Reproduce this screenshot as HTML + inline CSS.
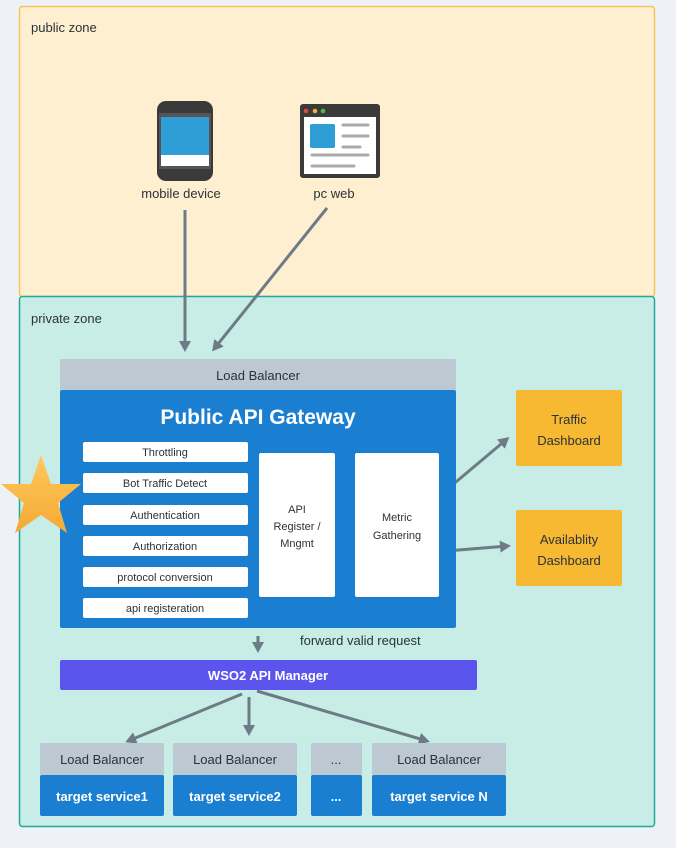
<!DOCTYPE html>
<html><head><meta charset="utf-8"><style>
body{margin:0;width:676px;height:848px;background:#eef2f7;overflow:hidden}
svg{display:block}
text{font-family:"Liberation Sans",sans-serif}
</style></head><body>
<svg width="676" height="848" viewBox="0 0 676 848" xmlns="http://www.w3.org/2000/svg">
<defs>
<marker id="ah" markerWidth="12" markerHeight="12" refX="8" refY="6" orient="auto" markerUnits="userSpaceOnUse"><path d="M0,0 L11,6 L0,12 Z" fill="#6d7b86"/></marker>
<linearGradient id="sg" x1="0" y1="0" x2="0" y2="1"><stop offset="0" stop-color="#fdc95c"/><stop offset="1" stop-color="#f6a935"/></linearGradient>
</defs>
<rect x="19.5" y="6.5" width="635" height="290" rx="3" fill="#fdefd0" stroke="#f6c55a" stroke-width="1.5"/>
<text x="31" y="32" font-size="13" fill="#2b3238">public zone</text>
<rect x="19.5" y="296.5" width="635" height="530" rx="3" fill="#c8ece6" stroke="#22a999" stroke-width="1.5"/>
<text x="31" y="323" font-size="13" fill="#2b3238">private zone</text>

<!-- phone -->
<rect x="157" y="101" width="56" height="80" rx="9" fill="#3a3a3a"/>
<rect x="159" y="113" width="52" height="56" fill="#555"/>
<rect x="161" y="117" width="48" height="38" fill="#2f9ed6"/>
<rect x="161" y="155" width="48" height="11" fill="#fff"/>
<text x="181" y="198" font-size="13" fill="#2b3238" text-anchor="middle">mobile device</text>
<!-- browser -->
<rect x="300" y="104" width="80" height="74" rx="3" fill="#3a3a3a"/>
<rect x="304" y="117" width="72" height="57" fill="#fff"/>
<circle cx="306" cy="111" r="2.3" fill="#e2483e"/><circle cx="315" cy="111" r="2.3" fill="#e8b72f"/><circle cx="323" cy="111" r="2.3" fill="#4cb752"/>
<rect x="310" y="124" width="25" height="24" rx="2" fill="#2f9ed6"/>
<g stroke="#aaa" stroke-width="3" stroke-linecap="round"><line x1="343" y1="125" x2="368" y2="125"/><line x1="343" y1="136" x2="368" y2="136"/><line x1="343" y1="147" x2="360" y2="147"/><line x1="312" y1="155" x2="368" y2="155"/><line x1="312" y1="166" x2="354" y2="166"/></g>
<text x="334" y="198" font-size="13" fill="#2b3238" text-anchor="middle">pc web</text>

<g stroke="#6d7b86" stroke-width="3" fill="none" marker-end="url(#ah)">
<line x1="185" y1="210" x2="185" y2="349"/>
<line x1="327" y1="208" x2="214" y2="349"/>
<line x1="444" y1="492" x2="507" y2="439"/>
<line x1="446" y1="551" x2="508" y2="546"/>
<line x1="258" y1="636" x2="258" y2="650"/>
<line x1="242" y1="694" x2="128" y2="741"/>
<line x1="249" y1="697" x2="249" y2="733"/>
<line x1="257" y1="691" x2="427" y2="741"/>
</g>

<rect x="60" y="359" width="396" height="32" rx="2" fill="#bcc8d2"/>
<text x="258" y="380" font-size="13" fill="#2b3238" text-anchor="middle">Load Balancer</text>
<rect x="60" y="390" width="396" height="238" rx="2" fill="#1a7fd1"/>
<text x="258" y="424" font-size="21" font-weight="bold" fill="#fff" text-anchor="middle">Public API Gateway</text>
<g fill="#fff">
<rect x="83" y="442" width="165" height="20" rx="2"/><rect x="83" y="473" width="165" height="20" rx="2"/><rect x="83" y="505" width="165" height="20" rx="2"/><rect x="83" y="536" width="165" height="20" rx="2"/><rect x="83" y="567" width="165" height="20" rx="2"/><rect x="83" y="598" width="165" height="20" rx="2"/>
<rect x="259" y="453" width="76" height="144" rx="2"/><rect x="355" y="453" width="84" height="144" rx="2"/>
</g>
<g font-size="11" fill="#2b3238" text-anchor="middle">
<text x="165" y="456">Throttling</text><text x="165" y="487">Bot Traffic Detect</text><text x="165" y="519">Authentication</text><text x="165" y="550">Authorization</text><text x="165" y="581">protocol conversion</text><text x="165" y="612">api registeration</text>
<text x="297" y="513">API</text><text x="297" y="530">Register /</text><text x="297" y="547">Mngmt</text>
<text x="397" y="521">Metric</text><text x="397" y="539">Gathering</text>
</g>
<polygon points="41,455 51,484 81,484 58,503 67,533 41,515 15,533 24,503 1,484 31,484" fill="url(#sg)"/>

<rect x="516" y="390" width="106" height="76" rx="2" fill="#f8b932"/>
<text x="569" y="424" font-size="13" fill="#2b3238" text-anchor="middle">Traffic</text><text x="569" y="445" font-size="13" fill="#2b3238" text-anchor="middle">Dashboard</text>
<rect x="516" y="510" width="106" height="76" rx="2" fill="#f8b932"/>
<text x="569" y="544" font-size="13" fill="#2b3238" text-anchor="middle">Availablity</text><text x="569" y="565" font-size="13" fill="#2b3238" text-anchor="middle">Dashboard</text>

<text x="300" y="645" font-size="13" fill="#2b3238">forward  valid request</text>
<rect x="60" y="660" width="417" height="30" rx="2" fill="#5b55ee"/>
<text x="268" y="680" font-size="13" font-weight="bold" fill="#fff" text-anchor="middle">WSO2 API Manager</text>

<g fill="#bcc8d2"><rect x="40" y="743" width="124" height="33" rx="2"/><rect x="173" y="743" width="124" height="33" rx="2"/><rect x="311" y="743" width="51" height="33" rx="2"/><rect x="372" y="743" width="134" height="33" rx="2"/></g>
<g fill="#1a7fd1"><rect x="40" y="775" width="124" height="41" rx="2"/><rect x="173" y="775" width="124" height="41" rx="2"/><rect x="311" y="775" width="51" height="41" rx="2"/><rect x="372" y="775" width="134" height="41" rx="2"/></g>
<g font-size="13" fill="#2b3238" text-anchor="middle"><text x="102" y="764">Load Balancer</text><text x="235" y="764">Load Balancer</text><text x="336" y="764">...</text><text x="439" y="764">Load Balancer</text></g>
<g font-size="13" font-weight="bold" fill="#fff" text-anchor="middle"><text x="102" y="801">target service1</text><text x="235" y="801">target service2</text><text x="336" y="801">...</text><text x="439" y="801">target service N</text></g>
</svg>
</body></html>
